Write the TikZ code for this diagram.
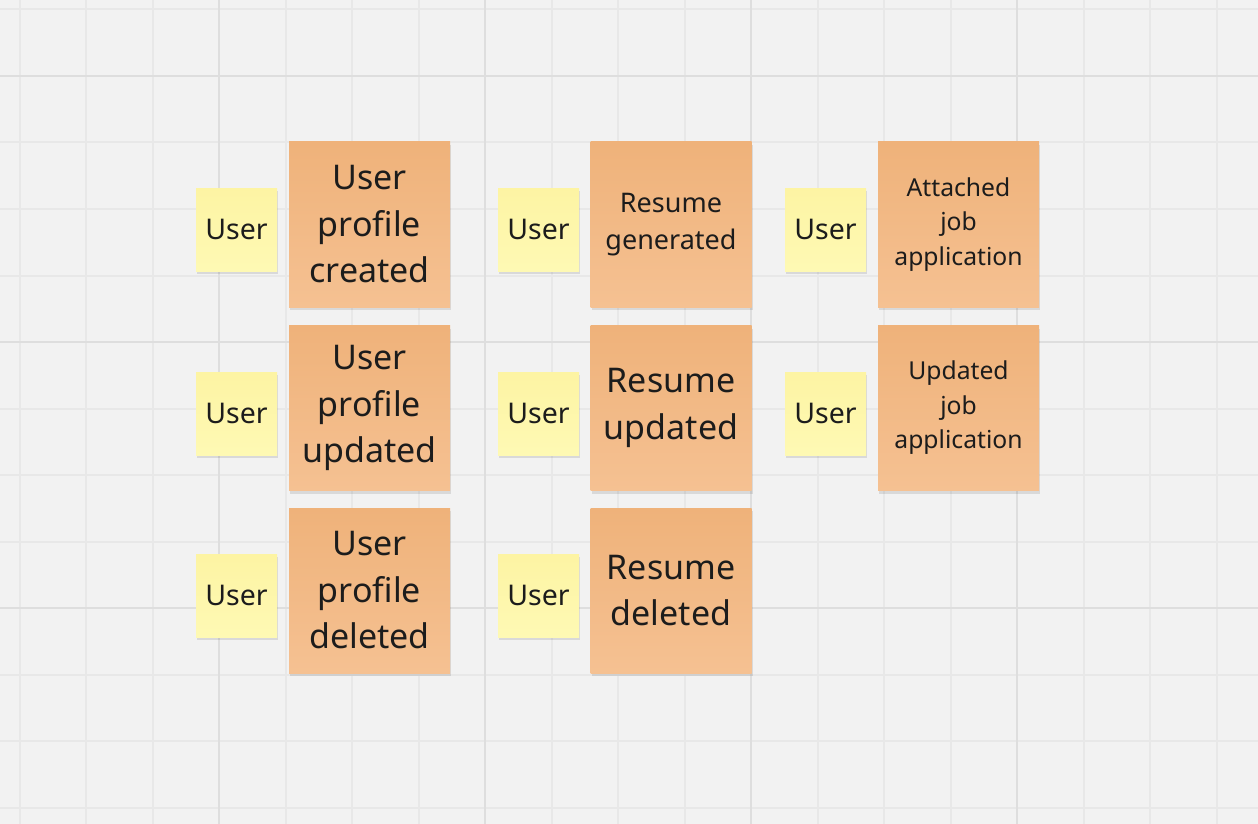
\documentclass[tikz,border=0pt]{standalone}
\usepackage{fontspec}
\setmainfont{Noto Sans}
\usepackage{tikz}
\usetikzlibrary{shadows}

\definecolor{board}{HTML}{F2F2F2}
\definecolor{minorline}{HTML}{E8E8E8}
\definecolor{majorline}{HTML}{DEDEDE}
\definecolor{yellowtop}{HTML}{FDF4A3}
\definecolor{yellowbot}{HTML}{FEF9B4}
\definecolor{orangetop}{HTML}{EFB27A}
\definecolor{orangebot}{HTML}{F5C192}
\definecolor{ink}{HTML}{1C1C1C}

\tikzset{
  note/.style={inner sep=0pt, text=ink, align=center,
    drop shadow={shadow xshift=1pt, shadow yshift=-3pt, opacity=.10, fill=black}},
  actor/.style={note, minimum width=81pt, minimum height=83pt,
    top color=yellowtop, bottom color=yellowbot,
    font={\fontsize{28.5}{36}\selectfont}},
  event/.style={note, minimum width=161pt, minimum height=165pt,
    top color=orangetop, bottom color=orangebot},
  bigtext/.style={font={\fontsize{34}{46.5}\selectfont}},
  midtext/.style={font={\fontsize{27}{36.5}\selectfont}},
  smalltext/.style={font={\fontsize{24.7}{34.5}\selectfont}}
}

\begin{document}
\begin{tikzpicture}[x=1pt,y=-1pt]
			%print board and grid
			\useasboundingbox (0,0) rectangle (1258,824);
			\fill[board] (0,0) rectangle (1258,824);
			\foreach \k in {0,...,18}
				\draw[minorline,line width=2pt] ({19.5+66.5*\k},0)--({19.5+66.5*\k},824);
			\foreach \k in {0,...,12}
				\draw[minorline,line width=2pt] (0,{9.5+66.5*\k})--(1258,{9.5+66.5*\k});
			\foreach \k in {3,7,11,15}
				\draw[majorline,line width=2.5pt] ({19.5+66.5*\k},0)--({19.5+66.5*\k},824);
			\foreach \k in {1,5,9}
				\draw[majorline,line width=2.5pt] (0,{9.5+66.5*\k})--(1258,{9.5+66.5*\k});
			%user profile column
			\node[actor] (user_created) at (236.5,229.5) {User};
			\node[event,bigtext] (profile_created) at (369.5,224.5) {User\\profile\\created};
			\node[actor] (user_updated) at (236.5,413.5) {User};
			\node[event,bigtext] (profile_updated) at (369.5,408) {User\\profile\\updated};
			\node[actor] (user_deleted) at (236.5,595.5) {User};
			\node[event,bigtext] (profile_deleted) at (369.5,590.5) {User\\profile\\deleted};
			%resume column
			\node[actor] (user_generated) at (538.5,229.5) {User};
			\node[event,midtext] (resume_generated) at (671,224.5) {Resume\\generated};
			\node[actor] (user_resume_up) at (538.5,413.5) {User};
			\node[event,bigtext] (resume_updated) at (671,408) {Resume\\updated};
			\node[actor] (user_resume_del) at (538.5,595.5) {User};
			\node[event,bigtext] (resume_deleted) at (671,590.5) {Resume\\deleted};
			%job application column
			\node[actor] (user_attached) at (825.5,229.5) {User};
			\node[event,smalltext] (job_attached) at (958.5,224.5) {Attached\\job\\application};
			\node[actor] (user_job_up) at (825.5,413.5) {User};
			\node[event,smalltext] (job_updated) at (958.5,408) {Updated\\job\\application};
		\end{tikzpicture}
\end{document}
